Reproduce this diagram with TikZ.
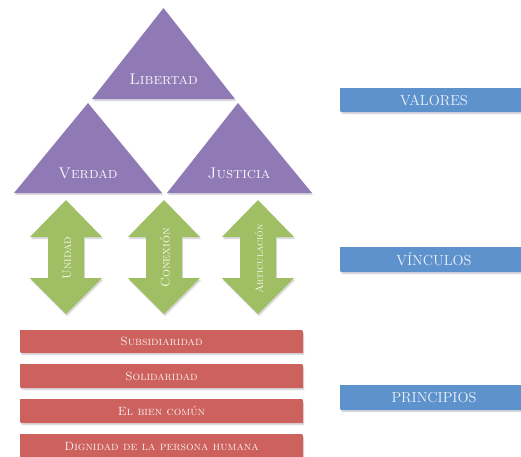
\documentclass[tikz,border=0pt]{standalone}
\definecolor{purp}{RGB}{144,122,182}
\definecolor{grn}{RGB}{160,191,101}
\definecolor{redb}{RGB}{204,97,93}
\definecolor{blueb}{RGB}{94,146,204}
\definecolor{shad}{RGB}{218,218,222}
\begin{document}
\begin{tikzpicture}[x=1pt,y=-1pt,
  trilabel/.style={text=white!92!purp, font=\fontsize{15.5}{17}\selectfont\scshape, inner sep=0pt},
  arrlabel/.style={text=white!90!grn, rotate=90, inner sep=0pt},
  redlabel/.style={text=white!90!redb, font=\fontsize{12}{14}\selectfont\scshape, inner sep=0pt},
  bluelabel/.style={text=white!90!blueb, font=\fontsize{14.5}{16}\selectfont, inner sep=0pt},
  shadow/.style={fill=shad}]
\useasboundingbox (0,0) rectangle (521,456);
\fill[white] (0,0) rectangle (521,456);

% triangles
\foreach \ax/\ay/\bl/\br/\by in {163.5/8/92/235/99, 88/103/14/162/193, 238/103/167/312/193}{
  \fill[shadow] (\ax+1,\ay+2) -- (\br+1,\by+2) -- (\bl+1,\by+2) -- cycle;
  \fill[purp] (\ax,\ay) -- (\br,\by) -- (\bl,\by) -- cycle;
}
\node[trilabel] (libertad) at (163.5,79) {Libertad};
\node[trilabel] (verdad) at (88,173) {Verdad};
\node[trilabel] (justicia) at (239,173) {Justicia};

% double arrows
\foreach \c in {66,164,258}{
  \fill[shadow] (\c+1,202) -- (\c+37,239) -- (\c+19,239) -- (\c+19,280) -- (\c+37,280) -- (\c+1,316) -- (\c-35,280) -- (\c-17,280) -- (\c-17,239) -- (\c-35,239) -- cycle;
  \fill[grn] (\c,200) -- (\c+36,237) -- (\c+18,237) -- (\c+18,278) -- (\c+36,278) -- (\c,314) -- (\c-36,278) -- (\c-18,278) -- (\c-18,237) -- (\c-36,237) -- cycle;
}
\node[arrlabel, font=\fontsize{12}{13}\selectfont\scshape] (unidad) at (67,258) {Unidad};
\node[arrlabel, font=\fontsize{12.5}{14}\selectfont\scshape] (conexion) at (165,258) {Conexión};
\node[arrlabel, font=\fontsize{10.3}{11}\selectfont\scshape] (articulacion) at (259,259) {Articulación};

% red bars
\foreach \t/\b in {330/353, 364/388, 399/423, 434/460}{
  \fill[shadow] (21,\t+2) -- (300,\t+2) .. controls (304,\t+2) .. (304,\t+6) -- (304,\b+2) -- (25,\b+2) .. controls (21,\b+2) .. (21,\b-2) -- cycle;
  \fill[redb] (20,\t) -- (299,\t) .. controls (303,\t) .. (303,\t+4) -- (303,\b) -- (24,\b) .. controls (20,\b) .. (20,\b-4) -- cycle;
}
\node[redlabel] (subsid) at (161.5,341.5) {Subsidiaridad};
\node[redlabel] (solid) at (161.5,376) {Solidaridad};
\node[redlabel] (bien) at (161.5,411) {El bien común};
\node[redlabel] (dign) at (161.5,446) {Dignidad de la persona humana};

% blue bars
\foreach \t/\b in {88/112, 247/272, 385/410}{
  \fill[shadow] (341,\t+2) -- (530,\t+2) -- (530,\b+2) -- (345,\b+2) .. controls (341,\b+2) .. (341,\b-2) -- cycle;
  \fill[blueb] (340,\t) -- (530,\t) -- (530,\b) -- (344,\b) .. controls (340,\b) .. (340,\b-4) -- cycle;
}
\node[bluelabel] (valores) at (434,100) {VALORES};
\node[bluelabel] (vinculos) at (434,259.5) {VÍNCULOS};
\node[bluelabel] (principios) at (434,397.5) {PRINCIPIOS};
\end{tikzpicture}
\end{document}
